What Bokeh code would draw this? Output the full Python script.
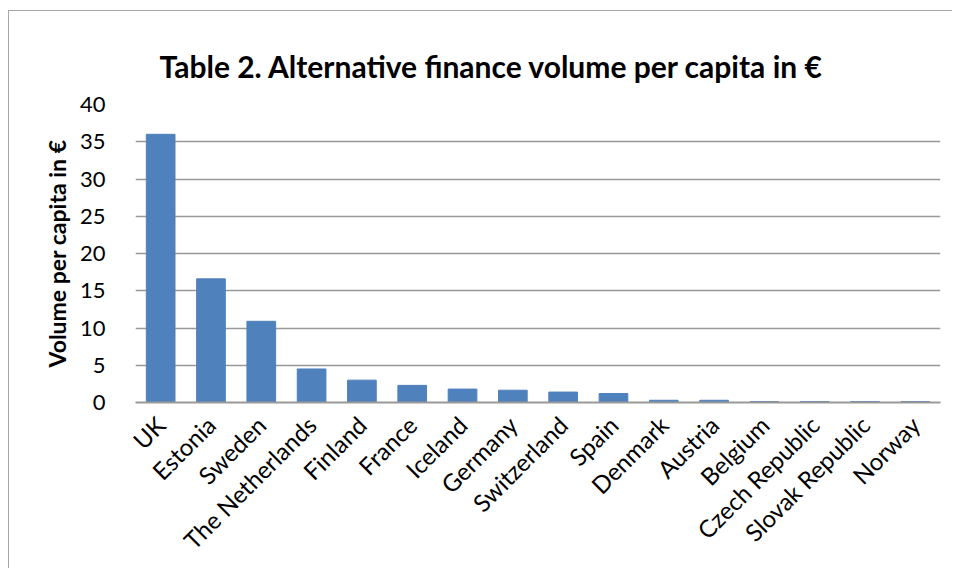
from bokeh.plotting import figure
from bokeh.models import FactorRange, Range1d, SingleIntervalTicker, ColumnDataSource
from bokeh.embed import file_html
from bokeh.resources import INLINE
import math

countries = ["UK", "Estonia", "Sweden", "The Netherlands", "Finland", "France",
             "Iceland", "Germany", "Switzerland", "Spain", "Denmark", "Austria",
             "Belgium", "Czech Republic", "Slovak Republic", "Norway"]
volume_per_capita = [36.0, 16.6, 10.9, 4.5, 3.0, 2.3, 1.8, 1.65, 1.4, 1.2,
                     0.3, 0.3, 0.12, 0.12, 0.12, 0.12]

title_text = "Table 2. Alternative finance volume per capita in €"
y_label = "Volume per capita in €"

FONT = "Lato"
GRID = "#999999"

source = ColumnDataSource(data=dict(country=countries, value=volume_per_capita))

p = figure(
    width=944, height=558,
    x_range=FactorRange(*countries, range_padding=0),
    y_range=Range1d(0, 40),
    output_backend="svg", toolbar_location=None,
    min_border_left=126, min_border_right=13, min_border_top=93, min_border_bottom=167,
)
p.styles = {"border-left": "1px solid #a6a6a6", "border-top": "1px solid #a6a6a6",
            "margin-left": "8px", "margin-top": "10px"}

p.vbar(x="country", top="value", width=0.57, source=source,
       fill_color="#4F81BD", line_color="#4F81BD")

p.title.text = title_text
p.title.text_font = FONT
p.title.text_font_style = "bold"
p.title.text_font_size = "30px"
p.title.align = "left"
p.title.vertical_align = "top"
p.title.text_color = "#000000"
p.title.offset = 24
p.title.standoff = 38

p.outline_line_color = None
p.background_fill_color = "white"
p.border_fill_color = "white"

p.xgrid.grid_line_color = None
p.ygrid.grid_line_color = GRID
p.ygrid.grid_line_width = 1.5

p.yaxis.ticker = SingleIntervalTicker(interval=5)
p.yaxis.axis_line_color = None
p.yaxis.major_tick_line_color = None
p.yaxis.major_tick_out = 0
p.yaxis.minor_tick_line_color = None
p.yaxis.major_label_text_font = FONT
p.yaxis.major_label_text_font_size = "22px"
p.yaxis.major_label_text_color = "#000000"
p.yaxis.major_label_standoff = 26
p.yaxis.axis_label = y_label
p.yaxis.axis_label_text_font = FONT
p.yaxis.axis_label_text_font_style = "bold"
p.yaxis.axis_label_text_font_size = "23px"
p.yaxis.axis_label_text_color = "#000000"
p.yaxis.axis_label_standoff = 6

p.xaxis.axis_line_color = GRID
p.xaxis.axis_line_width = 2
p.xaxis.major_tick_line_color = None
p.xaxis.major_tick_out = 0
p.xaxis.minor_tick_line_color = None
p.xaxis.major_label_orientation = math.pi / 4
p.xaxis.major_label_text_font = FONT
p.xaxis.major_label_text_font_size = "24px"
p.xaxis.major_label_text_color = "#000000"
p.xaxis.major_label_standoff = 18

open("out.html", "w").write(file_html(p, INLINE))
